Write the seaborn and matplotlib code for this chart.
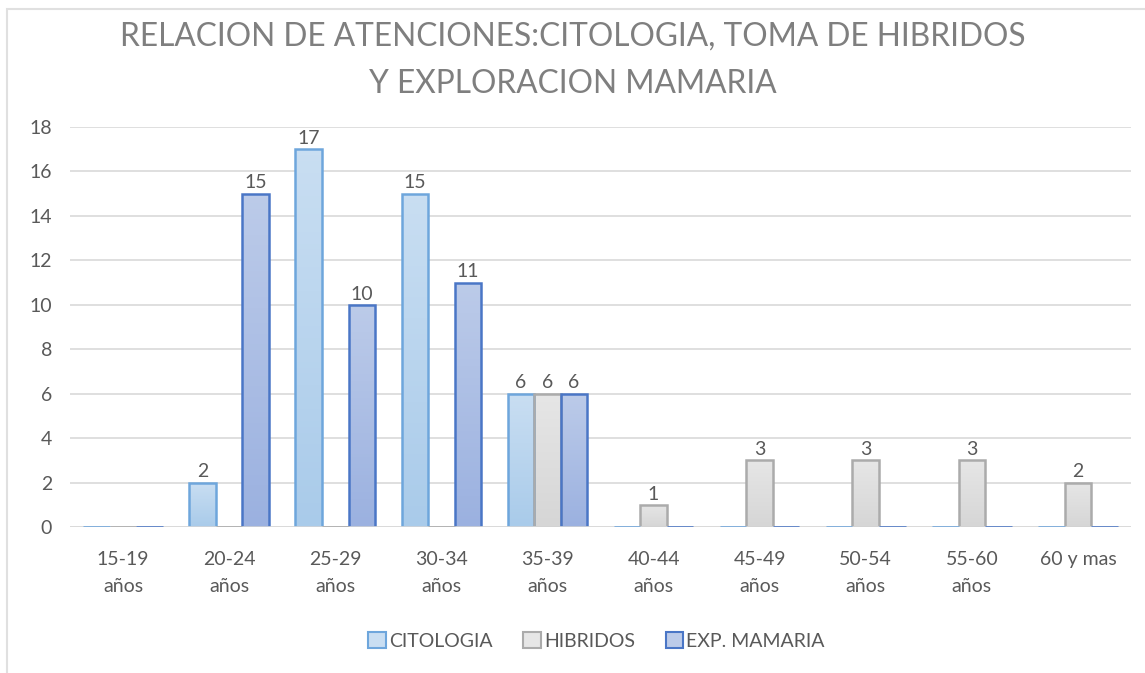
import matplotlib
matplotlib.use("Agg")
import matplotlib.pyplot as plt
import seaborn as sns
import numpy as np
import pandas as pd
from matplotlib.patches import Rectangle
from matplotlib.colors import LinearSegmentedColormap

categories = ["15-19\naños", "20-24\naños", "25-29\naños", "30-34\naños", "35-39\naños",
              "40-44\naños", "45-49\naños", "50-54\naños", "55-60\naños", "60 y mas"]
series_names = ["CITOLOGIA", "HIBRIDOS", "EXP. MAMARIA"]
citologia = [0, 2, 17, 15, 6, 0, 0, 0, 0, 0]
hibridos = [0, 0, 0, 0, 6, 1, 3, 3, 3, 2]
exp_mamaria = [0, 15, 10, 11, 6, 0, 0, 0, 0, 0]
yticks = [0, 2, 4, 6, 8, 10, 12, 14, 16, 18]
title = "RELACION DE ATENCIONES:CITOLOGIA, TOMA DE HIBRIDOS\nY EXPLORACION MAMARIA"

df = pd.DataFrame({
    "cat": categories * 3,
    "serie": [series_names[0]] * 10 + [series_names[1]] * 10 + [series_names[2]] * 10,
    "val": citologia + hibridos + exp_mamaria,
})

sns.set_theme(style="white")
plt.rcParams["font.family"] = ["Lato", "DejaVu Sans"]

fills = {"CITOLOGIA": ("#c9def2", "#a9cbea"), "HIBRIDOS": ("#e6e6e6", "#d6d6d6"),
         "EXP. MAMARIA": ("#bccbe9", "#9bb1e0")}
edges = {"CITOLOGIA": "#6ea6dc", "HIBRIDOS": "#ababab", "EXP. MAMARIA": "#4a76c6"}
palette = {k: v[1] for k, v in fills.items()}

fig = plt.figure(figsize=(11.45, 6.73), dpi=100)
ax = fig.add_axes([70 / 1145, 1 - 527 / 673, 1061 / 1145, 400 / 673])

sns.barplot(data=df, x="cat", y="val", hue="serie", hue_order=series_names,
            order=categories, palette=palette, width=0.75, gap=0, ax=ax,
            legend=False, errorbar=None, saturation=1)

ax.set_ylim(0, 18)
ax.set_xlim(-0.5, len(categories) - 0.5)
ax.set_yticks(yticks)
ax.yaxis.grid(True, color="#d9d9d9", linewidth=1.2)
ax.set_axisbelow(True)
for s in ax.spines.values():
    s.set_visible(False)
ax.axhline(0, color="#d9d9d9", linewidth=1.2, zorder=1)
ax.set_xlabel("")
ax.set_ylabel("")
ax.tick_params(axis="both", length=0, colors="#595959", labelsize=14)
ax.tick_params(axis="y", pad=13)
ax.tick_params(axis="x", pad=17)
for lbl in ax.get_xticklabels():
    lbl.set_linespacing(1.75)

# gradient fills and edges
for container, name in zip(ax.containers, series_names):
    top, bot = fills[name]
    cmap = LinearSegmentedColormap.from_list(name, [bot, top])
    for bar, v in zip(container, df[df.serie == name]["val"]):
        bar.set_edgecolor(edges[name])
        bar.set_linewidth(1.8)
        x0, w = bar.get_x(), bar.get_width()
        h = bar.get_height()
        if h > 0:
            grad = np.linspace(0, 1, 64).reshape(-1, 1)
            im = ax.imshow(grad, extent=[x0, x0 + w, 0, h], origin="lower", cmap=cmap,
                           aspect="auto", zorder=bar.get_zorder() - 0.1)
            im.set_clip_path(bar)
            bar.set_facecolor("none")
            ax.text(x0 + w / 2, h + 0.1, f"{int(v)}", ha="center", va="bottom",
                    fontsize=14, color="#595959")
        else:
            ax.plot([x0, x0 + w], [0, 0], color=edges[name], linewidth=1.8, zorder=3,
                    solid_capstyle="butt")
ax.set_xlim(-0.5, len(categories) - 0.5)
ax.set_ylim(0, 18)

fig.text(0.5, 1 - 60 / 673, title, ha="center", va="center", fontsize=22.8,
         color="#7f7f7f", linespacing=1.72)

handles = [Rectangle((0, 0), 1, 1, facecolor=fills[n][0], edgecolor=edges[n], linewidth=1.5)
           for n in series_names]
fig.legend(handles, series_names, loc="center", bbox_to_anchor=(0.521, 1 - 641 / 673),
           ncol=3, frameon=False, fontsize=14, labelcolor="#595959", handlelength=0.9,
           handleheight=0.9, handletextpad=0.15, columnspacing=1.6)

fig.patches.append(Rectangle((7 / 1145, -0.01), 1.1, 1 - 9 / 673 + 0.01,
                             transform=fig.transFigure, fill=False,
                             edgecolor="#e0e0e0", linewidth=1.5))

fig.savefig("out.png", dpi=100)
